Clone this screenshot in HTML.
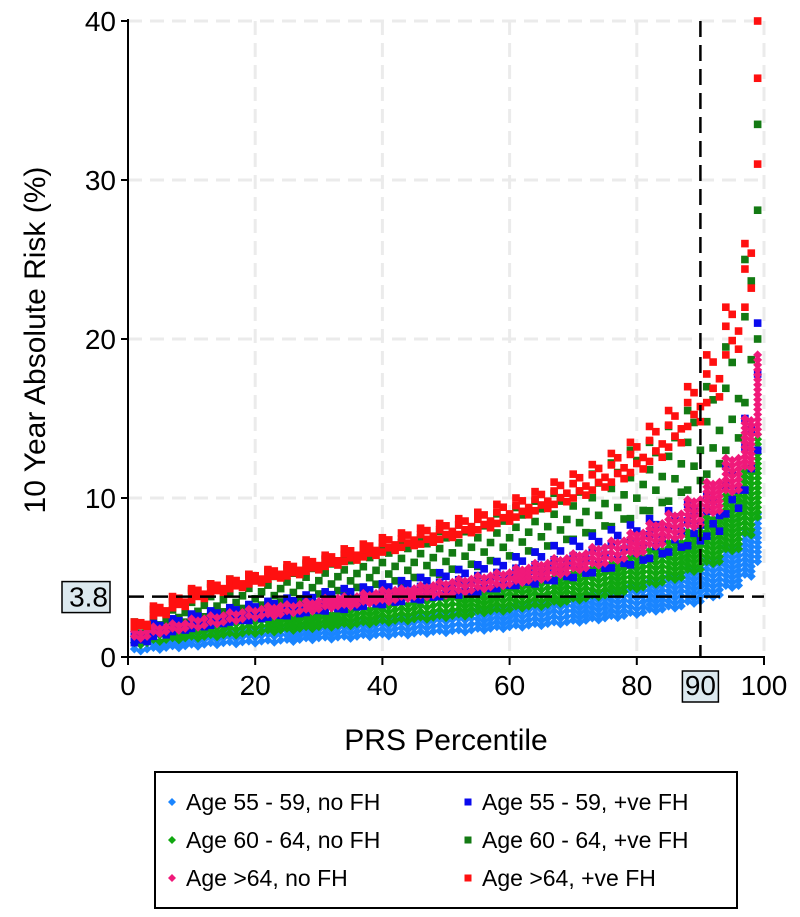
<!DOCTYPE html>
<html><head><meta charset="utf-8"><style>
html,body{margin:0;padding:0;background:#fff;}
svg{display:block;font-family:"Liberation Sans",Arial,sans-serif;}
</style></head><body>
<svg id="chart" width="800" height="917" viewBox="0 0 800 917" xmlns="http://www.w3.org/2000/svg">
<g id="grid"></g>
<g id="marks"></g>
<g id="refs"></g>
<g id="axes"></g>
<text x="446" y="750" font-size="30" text-anchor="middle">PRS Percentile</text>
<text transform="translate(45,340) rotate(-90)" font-size="30" text-anchor="middle">10 Year Absolute Risk (%)</text>
<g>
<rect x="155" y="772" width="582" height="136" fill="#fff" stroke="#000" stroke-width="2"/>
<g id="legend-entries"></g>
</g>
</svg>
<script>
const keys=[1,4,7,10,13,16,19,22,25,28,31,34,37,40,43,46,49,52,55,58,61,64,67,70,73,76,79,82,85,88,91,94,97,99];
const lbLo=[0.5,0.6,0.7,0.8,0.9,0.95,1.0,1.05,1.1,1.2,1.25,1.3,1.4,1.45,1.5,1.6,1.65,1.7,1.8,1.9,2.0,2.1,2.2,2.3,2.45,2.6,2.8,3.0,3.2,3.5,3.9,4.5,5.2,6.0];
const lbHi=[0.9,1.1,1.2,1.4,1.5,1.6,1.7,1.8,1.9,2.0,2.1,2.2,2.3,2.4,2.5,2.6,2.7,2.8,3.0,3.1,3.3,3.4,3.6,3.8,4.0,4.2,4.5,4.8,5.1,5.6,6.2,7.0,8.0,9.0];
const gLo=[0.9,1.1,1.2,1.3,1.4,1.5,1.6,1.7,1.8,1.9,2.0,2.1,2.2,2.3,2.4,2.5,2.6,2.7,2.9,3.0,3.2,3.3,3.5,3.7,3.9,4.1,4.4,4.7,5.0,5.5,6.0,6.8,7.8,8.8];
const gHi=[1.3,1.5,1.7,1.9,2.0,2.2,2.3,2.5,2.6,2.7,2.8,3.0,3.1,3.3,3.4,3.6,3.7,3.9,4.1,4.3,4.5,4.7,5.0,5.3,5.6,5.9,6.3,6.7,7.2,7.9,8.8,10.5,12,14];
const pLo=[1.3,1.6,1.8,2.0,2.2,2.4,2.6,2.7,2.9,3.0,3.2,3.3,3.5,3.6,3.8,3.9,4.0,4.2,4.4,4.6,4.8,5.0,5.3,5.6,5.9,6.2,6.6,7.1,7.6,8.3,9.2,10.5,12,14];
const pHi=[1.6,1.9,2.1,2.4,2.6,2.8,3.0,3.2,3.3,3.5,3.7,3.8,4.0,4.2,4.3,4.5,4.7,4.9,5.1,5.3,5.6,5.9,6.2,6.5,6.9,7.3,7.8,8.4,9.0,9.9,11,12.5,15,19];
const bLo=[0.9,1.3,1.6,1.8,2.0,2.2,2.3,2.5,2.6,2.8,2.9,3.0,3.2,3.3,3.5,3.6,3.8,3.9,4.1,4.3,4.5,4.6,4.8,5.0,5.3,5.6,5.8,6.2,6.6,7.0,7.6,9,10.5,13];
const bHi=[1.5,2.1,2.4,2.7,2.9,3.1,3.3,3.5,3.7,3.9,4.1,4.3,4.4,4.6,4.8,5.0,5.3,5.5,5.8,6.0,6.3,6.6,7.0,7.3,7.6,8.0,8.3,8.7,9.2,9.6,10.2,12,15,21];
const dgLo=[1.2,1.6,2.0,2.3,2.6,2.8,3.0,3.2,3.4,3.7,3.9,4.1,4.3,4.5,4.7,5.0,5.2,5.5,5.7,6.0,6.3,6.6,7.0,7.4,7.8,8.2,8.7,9.2,9.8,10.5,11.5,13,16,20];
const dgHi=[2.2,3.0,3.6,4.2,4.6,4.9,5.2,5.4,5.6,5.9,6.2,6.4,6.6,6.9,7.2,7.5,7.9,8.3,8.7,9.0,9.4,9.8,10.3,10.9,11.5,12.2,13,13.5,14.5,15.5,17,19.5,25,33.5];
const rLo=[1.9,2.6,3.1,3.6,4.0,4.3,4.6,4.9,5.1,5.4,5.7,6.0,6.3,6.6,6.9,7.1,7.4,7.7,8.0,8.4,8.8,9.2,9.6,10.0,10.5,11.0,11.6,12.3,13.2,14.5,16,19,22,31];
const rHi=[2.2,3.2,3.8,4.3,4.6,4.9,5.2,5.5,5.8,6.1,6.4,6.8,7.1,7.5,7.8,8.1,8.4,8.7,9.1,9.6,10.0,10.4,11.0,11.5,12.1,12.8,13.5,14.5,15.5,17,19,22,26,40];
const xTicks=[0,20,40,60,80,100];
const yTicks=[0,10,20,30,40];
const refX=90, refY=3.8;
const legendLabels=["Age 55 - 59, no FH","Age 55 - 59, +ve FH","Age 60 - 64, no FH","Age 60 - 64, +ve FH","Age >64, no FH","Age >64, +ve FH"];

const NS="http://www.w3.org/2000/svg";
const X0=128,X1=764,Y0=657,Y1=21;
const xs=v=>X0+(X1-X0)*v/100;
const ys=v=>Y0-(Y0-Y1)*v/40;
function mk(tag,attrs,parent){const e=document.createElementNS(NS,tag);for(const k in attrs)e.setAttribute(k,attrs[k]);parent.appendChild(e);return e;}
const grid=document.getElementById('grid'),marks=document.getElementById('marks'),refs=document.getElementById('refs'),axes=document.getElementById('axes');
yTicks.slice(1).forEach(t=>{const l=mk('line',{x1:X0,x2:X1,y1:ys(t),y2:ys(t),stroke:'#ebebeb','stroke-width':3,'stroke-dasharray':'14 8'},grid);

});
xTicks.slice(1).forEach(t=>{const l=mk('line',{x1:xs(t),x2:xs(t),y1:Y1,y2:Y0,stroke:'#ebebeb','stroke-width':3,'stroke-dasharray':'14 8'},grid);

});

function diamond(x,y,c,name){const s=4.5;const e=mk('polygon',{points:`${x},${y-s} ${x+s},${y} ${x},${y+s} ${x-s},${y}`,fill:c},marks);

}
function square(x,y,c,name){const s=3.8;const e=mk('rect',{x:x-s,y:y-s,width:2*s,height:2*s,fill:c},marks);

}
function cols(i){const next=i<keys.length-1?keys[i+1]:100;return Math.max(1,Math.min(next-keys[i],3));}
function dense(lo,hi,c,name){keys.forEach((k,i)=>{for(let j=0;j<cols(i);j++){const p=k+j;const a=ys(lo[i]),b=ys(hi[i]);const n=Math.max(1,Math.round((a-b)/5));for(let m=0;m<=n;m++){diamond(xs(p),a+(b-a)*m/n+(j%2)*2,c,name);}}});}
const fr=[[0,0.6,1],[0.3,0.85],[0.12,0.5]];
function sparse(lo,hi,c,name){keys.forEach((k,i)=>{for(let j=0;j<cols(i);j++){const p=k+j;fr[j].forEach(f=>square(xs(p),ys(lo[i]+(hi[i]-lo[i])*f),c,name));}});}
dense(lbLo,lbHi,'#1a85ff','point-age55-59-nofh');
dense(gLo,gHi,'#10a810','point-age60-64-nofh');
sparse(dgLo,dgHi,'#137a13','point-age60-64-fh');
sparse(bLo,bHi,'#0a0aee','point-age55-59-fh');
dense(pLo,pHi,'#f0197a','point-age64plus-nofh');
sparse(rLo,rHi,'#ff1010','point-age64plus-fh');

let r=mk('line',{x1:X0,x2:X1,y1:ys(refY),y2:ys(refY),stroke:'#000','stroke-width':2.5,'stroke-dasharray':'16 8'},refs);


r=mk('line',{x1:xs(refX),x2:xs(refX),y1:Y1,y2:Y0,stroke:'#000','stroke-width':2.5,'stroke-dasharray':'16 8'},refs);



let a=mk('line',{x1:X0,x2:X0,y1:Y1-2,y2:Y0+1,stroke:'#000','stroke-width':2},axes);


a=mk('line',{x1:X0-1,x2:X1+1,y1:Y0,y2:Y0,stroke:'#000','stroke-width':2},axes);


yTicks.forEach(t=>{const l=mk('line',{x1:X0-7,x2:X0,y1:ys(t),y2:ys(t),stroke:'#000','stroke-width':2},axes);


const tx=mk('text',{x:X0-12,y:ys(t)+10,'font-size':28,'text-anchor':'end'},axes);tx.textContent=t;

});
xTicks.forEach(t=>{const l=mk('line',{x1:xs(t),x2:xs(t),y1:Y0,y2:Y0+8,stroke:'#000','stroke-width':2},axes);


const tx=mk('text',{x:xs(t),y:Y0+38,'font-size':28,'text-anchor':'middle'},axes);tx.textContent=t;

});
let bx=mk('rect',{x:xs(refX)-18,y:Y0+14,width:36,height:31,fill:'#dce9ef',stroke:'#000','stroke-width':1.5},axes);


let bt=mk('text',{x:xs(refX),y:Y0+38,'font-size':28,'text-anchor':'middle'},axes);bt.textContent=refX;


bx=mk('rect',{x:62,y:ys(refY)-15,width:48,height:31,fill:'#dce9ef',stroke:'#000','stroke-width':1.5},axes);


bt=mk('text',{x:108,y:ys(refY)+10,'font-size':28,'text-anchor':'end'},axes);bt.textContent=refY;



const lg=document.getElementById('legend-entries');
const lgColors=['#1a85ff','#0a0aee','#10a810','#137a13','#f0197a','#ff1010'];
const lgShape=['d','s','d','s','d','s'];
legendLabels.forEach((lab,i)=>{const col=i%2,row=Math.floor(i/2);const mx=col?468:172,my=802+row*38;
const g=mk('g',{},lg);


if(lgShape[i]==='d'){mk('polygon',{points:`${mx},${my-4} ${mx+4},${my} ${mx},${my+4} ${mx-4},${my}`,fill:lgColors[i]},g);}else{mk('rect',{x:mx-3.5,y:my-3.5,width:7,height:7,fill:lgColors[i]},g);}
const t=mk('text',{x:mx+14,y:my+8,'font-size':23},g);t.textContent=lab;});
</script>
</body></html>
